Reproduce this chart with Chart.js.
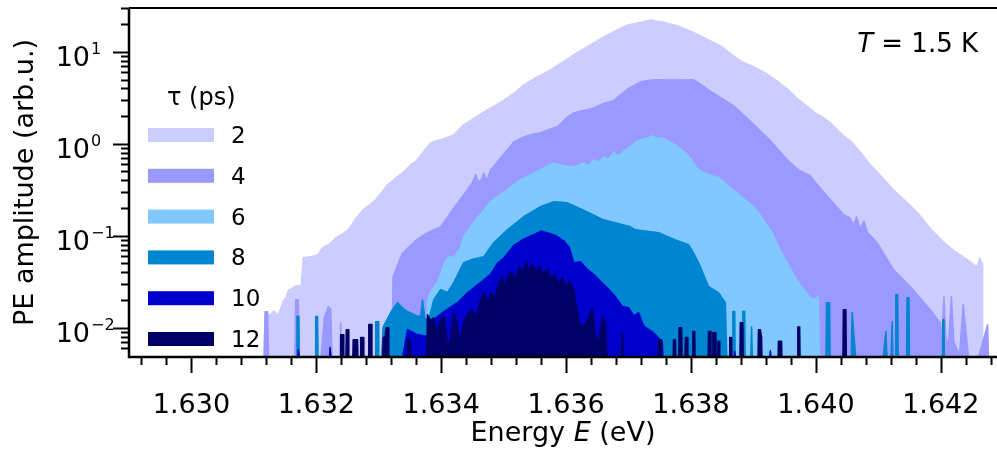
<!DOCTYPE html>
<html>
<head>
<meta charset="utf-8">
<script src="https://cdn.jsdelivr.net/npm/chart.js@4.4.1/dist/chart.umd.min.js"></script>
<style>
  html, body { margin: 0; padding: 0; background: #fff; }
  canvas { display: block; }
</style>
</head>
<body>
<canvas id="peChart" width="997" height="452"></canvas>
<script>
// delay times (legend) and fill colours
var delays = ['2', '4', '6', '8', '10', '12'];
var fills = ['#ccccff', '#9999ff', '#80c8ff', '#0085d0', '#0000cc', '#000066'];

var energyTicks = [1.630, 1.632, 1.634, 1.636, 1.638, 1.640, 1.642];
var energyLabels = ['1.630', '1.632', '1.634', '1.636', '1.638', '1.640', '1.642'];
var ampTicks = [0.01, 0.1, 1, 10];
var ampExponents = ['\u22122', '\u22121', '0', '1'];

// [energy (eV), PE amplitude]; 0.003 sits below the axis floor
var pe2ps = [
  [1.63115, 0.003], [1.63118, 0.0138], [1.63127, 0.0140], [1.63132, 0.0152], [1.63139, 0.0136],
  [1.63147, 0.0195], [1.63152, 0.0215], [1.63155, 0.0255], [1.63162, 0.0270], [1.63167, 0.0285],
  [1.63176, 0.0290], [1.63179, 0.0577], [1.63195, 0.0600], [1.63203, 0.0625], [1.63207, 0.0700],
  [1.63211, 0.0745], [1.63222, 0.082], [1.63231, 0.095], [1.63242, 0.105], [1.63251, 0.116],
  [1.63262, 0.150], [1.63275, 0.192], [1.63285, 0.215], [1.63295, 0.246], [1.63305, 0.30],
  [1.63314, 0.358], [1.63326, 0.42], [1.63338, 0.484], [1.63352, 0.60], [1.63360, 0.65],
  [1.63370, 0.798], [1.63383, 1.02], [1.63392, 1.08], [1.63402, 1.12], [1.63420, 1.25],
  [1.63436, 1.61], [1.63455, 1.95], [1.63474, 2.34], [1.63490, 2.70], [1.63506, 3.16],
  [1.63520, 3.70], [1.63532, 4.38], [1.63553, 5.30], [1.63575, 6.37], [1.63595, 7.80],
  [1.63612, 9.27], [1.63628, 10.8], [1.63644, 12.5], [1.63660, 14.5], [1.63676, 16.5],
  [1.63690, 18.5], [1.63700, 19.7], [1.63720, 21.0], [1.63738, 22.3], [1.63742, 21.6],
  [1.63754, 21.2], [1.63780, 19.0], [1.63802, 16.5], [1.63828, 13.5], [1.63850, 11.3],
  [1.63866, 9.3], [1.63882, 7.79], [1.63900, 6.9], [1.63919, 5.91], [1.63938, 4.8],
  [1.63956, 3.86], [1.63970, 3.1], [1.63983, 2.65], [1.63999, 2.17], [1.64011, 1.95],
  [1.64023, 1.69], [1.64040, 1.30], [1.64058, 1.03], [1.64072, 0.80], [1.64087, 0.591],
  [1.64105, 0.44], [1.64124, 0.316], [1.64143, 0.24], [1.64163, 0.178], [1.64183, 0.12],
  [1.64204, 0.086], [1.64222, 0.068], [1.64243, 0.0548], [1.64254, 0.048], [1.64259, 0.046],
  [1.64262, 0.0575], [1.64266, 0.050], [1.64267, 0.003]
];

var pe4ps = [
  [1.63116, 0.003], [1.63118, 0.0149], [1.63122, 0.0149], [1.63124, 0.003],
  [1.63165, 0.003], [1.63167, 0.0201], [1.63171, 0.0201], [1.63173, 0.003],
  [1.63205, 0.003], [1.63213, 0.0130], [1.63219, 0.0169], [1.63223, 0.0160], [1.63226, 0.003],
  [1.63237, 0.003], [1.63239, 0.0113], [1.63242, 0.003],
  [1.63320, 0.003], [1.63323, 0.036], [1.63330, 0.048], [1.63338, 0.065], [1.63360, 0.090],
  [1.63378, 0.108], [1.63388, 0.116], [1.63399, 0.125], [1.63420, 0.20], [1.63436, 0.28],
  [1.63450, 0.38], [1.63455, 0.46], [1.63460, 0.38], [1.63465, 0.42], [1.63468, 0.48],
  [1.63473, 0.40], [1.63479, 0.52], [1.63495, 0.70], [1.63506, 0.86], [1.63516, 1.05],
  [1.63532, 1.19], [1.63548, 1.28], [1.63559, 1.32], [1.63575, 1.45], [1.63586, 1.53],
  [1.63600, 1.90], [1.63612, 2.17], [1.63628, 2.30], [1.63640, 2.40], [1.63660, 2.75],
  [1.63676, 2.95], [1.63687, 3.4], [1.63700, 4.0], [1.63719, 4.72], [1.63740, 4.97],
  [1.63770, 4.95], [1.63804, 4.97], [1.63812, 4.6], [1.63828, 3.86], [1.63850, 3.1],
  [1.63868, 2.6], [1.63890, 1.9], [1.63908, 1.45], [1.63930, 1.03], [1.63954, 0.67],
  [1.63972, 0.52], [1.63991, 0.45], [1.64002, 0.36], [1.64018, 0.27], [1.64044, 0.17],
  [1.64055, 0.155], [1.64060, 0.13], [1.64065, 0.16], [1.64071, 0.12], [1.64077, 0.145],
  [1.64082, 0.11], [1.64098, 0.084], [1.64124, 0.043], [1.64151, 0.028], [1.64183, 0.0157],
  [1.64199, 0.0113], [1.64201, 0.006], [1.64205, 0.0217], [1.64209, 0.006], [1.64213, 0.008],
  [1.64217, 0.0217], [1.64221, 0.007], [1.64230, 0.005], [1.64236, 0.018], [1.64244, 0.005],
  [1.64248, 0.003], [1.64252, 0.003], [1.64275, 0.0108], [1.64277, 0.003]
];

var pe6ps = [
  [1.63374, 0.003], [1.63378, 0.020], [1.63385, 0.026], [1.63394, 0.031], [1.63405, 0.050],
  [1.63411, 0.059], [1.63420, 0.058], [1.63431, 0.075], [1.63436, 0.098], [1.63452, 0.14],
  [1.63468, 0.19], [1.63480, 0.24], [1.63506, 0.316], [1.63525, 0.40], [1.63548, 0.48],
  [1.63565, 0.55], [1.63580, 0.62], [1.63595, 0.58], [1.63612, 0.56], [1.63628, 0.62],
  [1.63636, 0.58], [1.63644, 0.67], [1.63652, 0.63], [1.63660, 0.72], [1.63668, 0.68],
  [1.63676, 0.80], [1.63684, 0.74], [1.63695, 0.86], [1.63703, 0.93], [1.63711, 1.05],
  [1.63720, 1.10], [1.63730, 1.16], [1.63738, 1.22], [1.63745, 1.15], [1.63754, 1.16],
  [1.63760, 1.10], [1.63775, 0.975], [1.63791, 0.80], [1.63800, 0.68], [1.63812, 0.52],
  [1.63828, 0.46], [1.63844, 0.43], [1.63858, 0.36], [1.63871, 0.30], [1.63885, 0.25],
  [1.63898, 0.215], [1.63911, 0.17], [1.63919, 0.138], [1.63930, 0.108], [1.63940, 0.076],
  [1.63956, 0.048], [1.63972, 0.031], [1.63985, 0.024], [1.63994, 0.020], [1.64004, 0.0217],
  [1.64006, 0.003]
];

var pe8ps = [
  [1.63168, 0.003], [1.63169, 0.0133], [1.63172, 0.0133], [1.63173, 0.003],
  [1.63198, 0.003], [1.63199, 0.0132], [1.63202, 0.0132], [1.63203, 0.003],
  [1.63294, 0.003], [1.63295, 0.0116], [1.63299, 0.0116], [1.63300, 0.003],
  [1.63303, 0.003], [1.63307, 0.0102], [1.63320, 0.0150], [1.63330, 0.0187], [1.63340, 0.0160],
  [1.63346, 0.0150], [1.63360, 0.0135], [1.63367, 0.0132], [1.63370, 0.020], [1.63374, 0.0125],
  [1.63380, 0.0122], [1.63388, 0.020], [1.63399, 0.026], [1.63410, 0.024], [1.63420, 0.031],
  [1.63436, 0.051], [1.63452, 0.056], [1.63468, 0.059], [1.63484, 0.084], [1.63506, 0.116],
  [1.63532, 0.161], [1.63559, 0.207], [1.63580, 0.234], [1.63602, 0.228], [1.63628, 0.19],
  [1.63660, 0.149], [1.63703, 0.125], [1.63711, 0.116], [1.63748, 0.108], [1.63775, 0.09],
  [1.63796, 0.08], [1.63804, 0.065], [1.63812, 0.051], [1.63828, 0.028], [1.63844, 0.024],
  [1.63855, 0.0187], [1.63858, 0.003],
  [1.63866, 0.003], [1.63867, 0.015], [1.63870, 0.015], [1.63871, 0.003],
  [1.63882, 0.003], [1.63883, 0.015], [1.63886, 0.015], [1.63887, 0.003],
  [1.63895, 0.003], [1.63897, 0.0102], [1.63899, 0.003],
  [1.64016, 0.003], [1.64017, 0.0187], [1.64022, 0.0187], [1.64023, 0.003],
  [1.64056, 0.003], [1.64058, 0.0146], [1.64066, 0.003],
  [1.64105, 0.003], [1.64112, 0.0091], [1.64115, 0.003],
  [1.64120, 0.003], [1.64122, 0.0116], [1.64124, 0.003],
  [1.64127, 0.003], [1.64128, 0.0228], [1.64131, 0.0228], [1.64132, 0.003],
  [1.64145, 0.003], [1.64146, 0.0212], [1.64149, 0.0212], [1.64150, 0.003],
  [1.64202, 0.003], [1.64203, 0.0122], [1.64205, 0.0122], [1.64206, 0.003]
];

var pe10ps = [
  [1.63170, 0.003], [1.63171, 0.0058], [1.63176, 0.003],
  [1.63220, 0.003], [1.63222, 0.0061], [1.63226, 0.003],
  [1.63333, 0.003], [1.63346, 0.0095], [1.63360, 0.0085], [1.63378, 0.0080], [1.63388, 0.0122],
  [1.63402, 0.0146], [1.63426, 0.0187], [1.63442, 0.024], [1.63463, 0.031], [1.63479, 0.038],
  [1.63490, 0.050], [1.63500, 0.057], [1.63516, 0.078], [1.63532, 0.092], [1.63548, 0.103],
  [1.63560, 0.112], [1.63575, 0.105], [1.63586, 0.098], [1.63596, 0.088], [1.63605, 0.075],
  [1.63612, 0.051], [1.63623, 0.052], [1.63634, 0.043], [1.63644, 0.038], [1.63655, 0.032],
  [1.63666, 0.027], [1.63676, 0.023], [1.63690, 0.017], [1.63700, 0.0165], [1.63708, 0.0135],
  [1.63716, 0.0145], [1.63724, 0.0105], [1.63740, 0.0088], [1.63754, 0.0070], [1.63756, 0.003],
  [1.63868, 0.003], [1.63870, 0.0055], [1.63874, 0.003],
  [1.63924, 0.003], [1.63927, 0.0056], [1.63931, 0.003]
];

var pe12ps = [
  [1.63238, 0.003], [1.63239, 0.0084], [1.63243, 0.0084], [1.63244, 0.003],
  [1.63247, 0.003], [1.63248, 0.0095], [1.63251, 0.0095], [1.63252, 0.003],
  [1.63258, 0.003], [1.63259, 0.0074], [1.63266, 0.0074], [1.63267, 0.003],
  [1.63270, 0.003], [1.63271, 0.0078], [1.63275, 0.0078], [1.63276, 0.003],
  [1.63283, 0.003], [1.63284, 0.0108], [1.63288, 0.0108], [1.63289, 0.003],
  [1.63306, 0.003], [1.63307, 0.0078], [1.63310, 0.0078], [1.63312, 0.0100], [1.63315, 0.0100], [1.63316, 0.003],
  [1.63345, 0.003], [1.63346, 0.0074], [1.63350, 0.0074], [1.63351, 0.003],
  [1.63376, 0.003], [1.63378, 0.0138], [1.63383, 0.0120], [1.63388, 0.0128], [1.63392, 0.0090],
  [1.63399, 0.0122], [1.63405, 0.0132], [1.63409, 0.0069], [1.63414, 0.0069], [1.63420, 0.0149],
  [1.63425, 0.0113], [1.63430, 0.0069], [1.63436, 0.0113], [1.63442, 0.0140], [1.63450, 0.0157],
  [1.63456, 0.0130], [1.63463, 0.0200], [1.63468, 0.0240], [1.63474, 0.0190], [1.63480, 0.0240],
  [1.63486, 0.0210], [1.63492, 0.0300], [1.63497, 0.0360], [1.63502, 0.0290], [1.63508, 0.0380],
  [1.63514, 0.0400], [1.63519, 0.0330], [1.63525, 0.0460], [1.63530, 0.0400], [1.63536, 0.0510],
  [1.63541, 0.0430], [1.63546, 0.0490], [1.63552, 0.0400], [1.63557, 0.0460], [1.63563, 0.0390],
  [1.63570, 0.0430], [1.63576, 0.0340], [1.63582, 0.0380], [1.63588, 0.0300], [1.63594, 0.0350],
  [1.63599, 0.0280], [1.63605, 0.0320], [1.63612, 0.0260], [1.63618, 0.0150], [1.63622, 0.0110],
  [1.63628, 0.0102], [1.63635, 0.0125], [1.63642, 0.0164], [1.63647, 0.0080], [1.63652, 0.0070],
  [1.63658, 0.0132], [1.63663, 0.0115], [1.63666, 0.003],
  [1.63688, 0.003], [1.63690, 0.0091], [1.63693, 0.003],
  [1.63747, 0.003], [1.63748, 0.0074], [1.63752, 0.0074], [1.63753, 0.003],
  [1.63771, 0.003], [1.63772, 0.0074], [1.63775, 0.0074], [1.63776, 0.003],
  [1.63780, 0.003], [1.63781, 0.0100], [1.63785, 0.0100], [1.63786, 0.003],
  [1.63790, 0.003], [1.63791, 0.0078], [1.63794, 0.0078], [1.63795, 0.003],
  [1.63802, 0.003], [1.63803, 0.0091], [1.63806, 0.0091], [1.63807, 0.003],
  [1.63827, 0.003], [1.63828, 0.0091], [1.63831, 0.0091], [1.63832, 0.003],
  [1.63834, 0.003], [1.63835, 0.0088], [1.63839, 0.0088], [1.63840, 0.003],
  [1.63842, 0.003], [1.63843, 0.0071], [1.63845, 0.0071], [1.63846, 0.003],
  [1.63861, 0.003], [1.63862, 0.0078], [1.63865, 0.0078], [1.63866, 0.003],
  [1.63878, 0.003], [1.63879, 0.0113], [1.63883, 0.0113], [1.63884, 0.003],
  [1.63907, 0.003], [1.63908, 0.0095], [1.63911, 0.0095], [1.63913, 0.0078], [1.63914, 0.003],
  [1.63939, 0.003], [1.63940, 0.0071], [1.63945, 0.0071], [1.63946, 0.003],
  [1.63970, 0.003], [1.63971, 0.0102], [1.63974, 0.0102], [1.63975, 0.003],
  [1.64043, 0.003], [1.64044, 0.0157], [1.64048, 0.0157], [1.64049, 0.003]
];

var spectra = [pe2ps, pe4ps, pe6ps, pe8ps, pe10ps, pe12ps];

var FONT = "'DejaVu Sans', sans-serif";

// draw a run of text pieces with different fonts
function drawRun(ctx, parts, x, y, align) {
  var total = 0;
  parts.forEach(function(p) {
    ctx.font = p.font;
    p.w = ctx.measureText(p.text).width;
    total += p.w;
  });
  var cx = x;
  if (align === 'center') cx = x - total / 2;
  if (align === 'right') cx = x - total;
  ctx.textAlign = 'left';
  parts.forEach(function(p) {
    ctx.font = p.font;
    ctx.fillText(p.text, cx, y);
    cx += p.w;
  });
}

var axesPlugin = {
  id: 'axesPlugin',
  afterDraw: function(chart) {
    var ctx = chart.ctx;
    var xs = chart.scales.x, ys = chart.scales.y, a = chart.chartArea;
    ctx.save();
    ctx.strokeStyle = '#000';
    ctx.fillStyle = '#000';
    ctx.textBaseline = 'alphabetic';

    // frame: left + bottom axes, top border
    ctx.lineWidth = 2.5;
    ctx.beginPath();
    ctx.moveTo(a.left, a.top);
    ctx.lineTo(a.left, a.bottom);
    ctx.lineTo(chart.width, a.bottom);
    ctx.stroke();
    ctx.lineWidth = 2;
    ctx.beginPath();
    ctx.moveTo(a.left, a.top);
    ctx.lineTo(chart.width, a.top);
    ctx.stroke();

    // x ticks (5 minor steps per labelled step)
    ctx.lineWidth = 2;
    var step = (energyTicks[1] - energyTicks[0]) / 5;
    var first = energyTicks[0];
    while (first - step >= xs.min) first -= step;
    for (var v = first; v <= xs.max + 1e-9; v += step) {
      var px = Math.round(xs.getPixelForValue(v)) + 0.5;
      var major = energyTicks.some(function(t) { return Math.abs(t - v) < step / 10; });
      ctx.beginPath();
      ctx.moveTo(px, a.bottom);
      ctx.lineTo(px, a.bottom + (major ? 16 : 8));
      ctx.stroke();
    }
    ctx.font = '27px ' + FONT;
    ctx.textAlign = 'center';
    energyTicks.forEach(function(t, i) {
      ctx.fillText(energyLabels[i], xs.getPixelForValue(t), 413);
    });

    // y ticks (log decades)
    var d0 = Math.floor(Math.log10(ys.min)), d1 = Math.ceil(Math.log10(ys.max));
    for (var d = d0; d <= d1; d++) {
      for (var m = 1; m <= 9; m++) {
        var val = m * Math.pow(10, d);
        if (val < ys.min || val > ys.max) continue;
        var py = Math.round(ys.getPixelForValue(val)) + 0.5;
        if (a.bottom - py < 3) continue;
        ctx.beginPath();
        ctx.moveTo(a.left, py);
        ctx.lineTo(a.left - (m === 1 ? 16 : 8), py);
        ctx.stroke();
      }
    }
    ampTicks.forEach(function(t, i) {
      var py = ys.getPixelForValue(t);
      ctx.font = '27px ' + FONT;
      ctx.textAlign = 'right';
      ctx.fillText('10', 90, py + 14);
      ctx.font = '16px ' + FONT;
      ctx.textAlign = 'left';
      ctx.fillText(ampExponents[i], 91, py + 2);
    });

    // axis titles
    drawRun(ctx, [
      {text: 'Energy ', font: '27px ' + FONT},
      {text: 'E', font: 'italic 27px ' + FONT},
      {text: ' (eV)', font: '27px ' + FONT}
    ], (a.left + a.right) / 2, 441, 'center');

    ctx.save();
    ctx.translate(33, (a.top + a.bottom) / 2);
    ctx.rotate(-Math.PI / 2);
    ctx.font = '27px ' + FONT;
    ctx.textAlign = 'center';
    ctx.fillText('PE amplitude (arb.u.)', 0, 0);
    ctx.restore();

    // temperature note
    drawRun(ctx, [
      {text: 'T', font: 'italic 26px ' + FONT},
      {text: ' = 1.5 K', font: '26px ' + FONT}
    ], 978, 52, 'right');

    // legend
    ctx.font = '24px ' + FONT;
    ctx.textAlign = 'left';
    ctx.fillText('\u03c4 (ps)', 167, 105);
    chart.data.datasets.forEach(function(ds, i) {
      var cy = 135 + i * 40.8;
      ctx.fillStyle = ds.backgroundColor;
      ctx.fillRect(148, cy - 7, 66, 14);
      ctx.fillStyle = '#000';
      ctx.font = '23px ' + FONT;
      ctx.fillText(ds.label, 231, cy + 8);
    });
    ctx.restore();
  }
};

new Chart(document.getElementById('peChart'), {
  type: 'line',
  data: {
    datasets: spectra.map(function(s, i) {
      return {
        label: delays[i],
        data: s,
        order: spectra.length - i,
        backgroundColor: fills[i],
        borderColor: fills[i],
        borderWidth: 1.5,
        borderJoinStyle: 'round',
        pointRadius: 0,
        tension: 0,
        fill: 'start'
      };
    })
  },
  options: {
    responsive: false,
    animation: false,
    devicePixelRatio: 1,
    layout: { padding: { left: 129, right: 0, top: 8, bottom: 95 } },
    scales: {
      x: { type: 'linear', min: 1.629, max: 1.6429, display: false },
      y: { type: 'logarithmic', min: 0.0048, max: 30, display: false }
    },
    plugins: {
      legend: { display: false },
      tooltip: { enabled: false }
    }
  },
  plugins: [axesPlugin]
});
</script>
</body>
</html>
